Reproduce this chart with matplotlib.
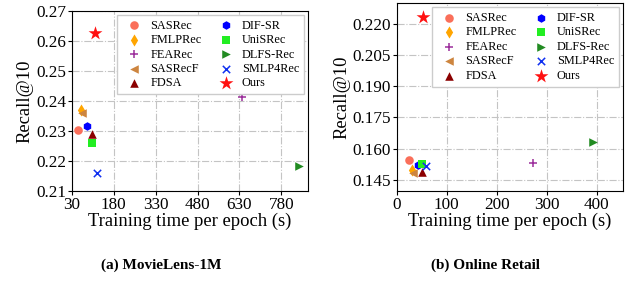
import matplotlib
matplotlib.use('Agg')
import matplotlib.pyplot as plt

plt.rcParams['font.family'] = 'Liberation Serif'

# Models and style
models = ['SASRec', 'FMLPRec', 'FEARec', 'SASRecF', 'FDSA',
          'DIF-SR', 'UniSRec', 'DLFS-Rec', 'SMLP4Rec', 'Ours']
markers = ['o', 'd', '+', '<', '^', 'h', 's', '>', 'x', '*']
colors = ['#FA6F5A', '#FFA500', '#9B2D9B', '#CD853F', '#8B0000',
          '#0000FF', '#22EE22', '#228B22', '#1030F0', '#FF1010']

# MovieLens-1M: training time per epoch (s), Recall@10
ml_time = [50, 61, 639, 66, 100, 85, 102, 842, 120, 112]
ml_recall = [0.2302, 0.2371, 0.2412, 0.2360, 0.2289, 0.2318, 0.2261, 0.2182, 0.2160, 0.2628]

# Online Retail
or_time = [24, 31, 273, 33, 51, 42, 50, 392, 59, 53]
or_recall = [0.1543, 0.1494, 0.1531, 0.1482, 0.1489, 0.1520, 0.1525, 0.1632, 0.1516, 0.2235]

ml_xticks = [30, 180, 330, 480, 630, 780]
ml_yticks = [0.21, 0.22, 0.23, 0.24, 0.25, 0.26, 0.27]
or_xticks = [0, 100, 200, 300, 400]
or_yticks = [0.145, 0.160, 0.175, 0.190, 0.205, 0.220]

fig = plt.figure(figsize=(6.41, 2.82), dpi=100)
ax1 = fig.add_axes([0.1123, 0.3227, 0.368, 0.638])
ax2 = fig.add_axes([0.619, 0.3227, 0.3526, 0.665])


def draw(ax, xs, ys):
    for name, m, c, x, y in zip(models, markers, colors, xs, ys):
        if m == '*':
            size = 110
        elif m in ['+', 'x']:
            size = 28
        else:
            size = 38
        lw = 1.1 if m in ['+', 'x'] else 0
        ax.scatter(x, y, marker=m, color=c, s=size, linewidths=lw, label=name, zorder=3)
    ax.grid(True, linestyle='-.', color='#c4c4c4', linewidth=0.8, zorder=0)
    ax.set_xlabel('Training time per epoch (s)', fontsize=13.4, labelpad=0)
    ax.set_ylabel('Recall@10', fontsize=13.4, labelpad=2)
    ax.tick_params(labelsize=12.3, length=3, pad=1)
    ax.legend(ncol=2, fontsize=8.8, loc='upper right', labelspacing=0.2,
              handletextpad=0.3, columnspacing=1.0, borderpad=0.4,
              framealpha=1, edgecolor='#cccccc', fancybox=False,
              borderaxespad=0.3)


draw(ax1, ml_time, ml_recall)
ax1.set_xlim(30, 875)
ax1.set_ylim(0.21, 0.27)
ax1.set_xticks(ml_xticks)
ax1.set_yticks(ml_yticks)
ax1.set_yticklabels(['%.2f' % v for v in ml_yticks])

draw(ax2, or_time, or_recall)
ax2.set_xlim(0, 452)
ax2.set_ylim(0.1395, 0.230)
ax2.set_xticks(or_xticks)
ax2.set_yticks(or_yticks)
ax2.set_yticklabels(['%.3f' % v for v in or_yticks])

fig.text(0.252, 0.058, '(a) MovieLens-1M', ha='center', va='center', fontsize=11, fontweight='bold')
fig.text(0.757, 0.058, '(b) Online Retail', ha='center', va='center', fontsize=11, fontweight='bold')

fig.savefig('out.png', dpi=100)
